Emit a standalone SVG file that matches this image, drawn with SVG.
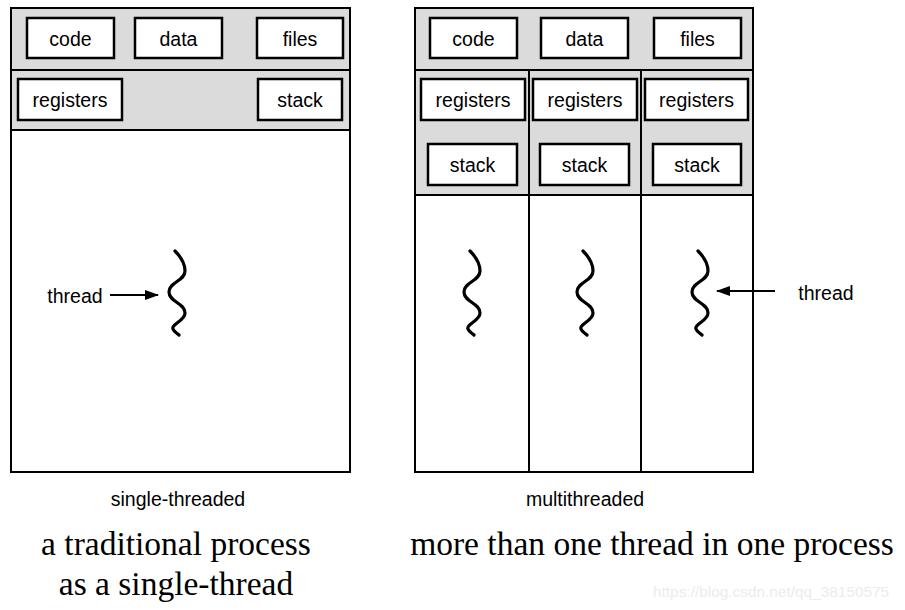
<svg xmlns="http://www.w3.org/2000/svg" width="905" height="610" viewBox="0 0 905 610">
<style>
.panel{fill:#dcdbdc;stroke:#000;stroke-width:2}
.body{fill:#fff;stroke:#000;stroke-width:2}
.box{fill:#fff;stroke:#000;stroke-width:2.5}
.line{stroke:#000;stroke-width:2;fill:none}
.lbl{font-family:"Liberation Sans",Arial,sans-serif;font-size:19.5px;fill:#000;text-anchor:middle}
.cap{font-family:"Liberation Serif","Times New Roman",serif;font-size:33.5px;fill:#000;text-anchor:middle}
.wave{fill:none;stroke:#000;stroke-width:3.2;stroke-linecap:round}
.wm{font-family:"Liberation Sans",Arial,sans-serif;font-size:15.4px;fill:#ececec}
</style>
<defs>
<path id="wave" d="M -2,0 C 3,5 8,12 8,20 C 8,30 -8,31 -8,41 C -8,51 8,52 8,62 C 8,70 -6,73 -4,78 C -3,81 0,82 2,84"/>
<marker id="ah" markerWidth="14" markerHeight="10" refX="13" refY="5" orient="auto" markerUnits="userSpaceOnUse">
<path d="M0,0 L14,5 L0,10 Z" fill="#000"/>
</marker>
</defs>

<g id="single-process">
<rect class="body" x="11" y="8" width="339" height="464"/>
<rect class="panel" x="11" y="8" width="339" height="62"/>
<rect class="panel" x="11" y="70" width="339" height="60"/>
</g>
<g id="s-code"><rect class="box" x="27" y="18" width="87" height="40"/><text class="lbl" x="70.5" y="46">code</text></g>
<g id="s-data"><rect class="box" x="135" y="18" width="87" height="40"/><text class="lbl" x="178.5" y="46">data</text></g>
<g id="s-files"><rect class="box" x="257" y="18" width="86" height="40"/><text class="lbl" x="300" y="46">files</text></g>
<g id="s-registers"><rect class="box" x="18" y="79" width="104" height="41"/><text class="lbl" x="70" y="107">registers</text></g>
<g id="s-stack"><rect class="box" x="258" y="79" width="84" height="41"/><text class="lbl" x="300" y="107">stack</text></g>
<g id="s-thread"><use href="#wave" class="wave" transform="translate(177,251)"/></g>
<text class="lbl" x="75" y="303">thread</text>

<g id="multi-process">
<rect class="body" x="415" y="8" width="338" height="464"/>
<rect class="panel" x="415" y="8" width="338" height="62"/>
<rect class="panel" x="415" y="70" width="338" height="125"/>
<line class="line" x1="529" y1="70" x2="529" y2="472"/>
<line class="line" x1="641" y1="70" x2="641" y2="472"/>
</g>
<g id="m-code"><rect class="box" x="430" y="18" width="87" height="40"/><text class="lbl" x="473.5" y="46">code</text></g>
<g id="m-data"><rect class="box" x="541" y="18" width="87" height="40"/><text class="lbl" x="584.5" y="46">data</text></g>
<g id="m-files"><rect class="box" x="654" y="18" width="87" height="40"/><text class="lbl" x="697.5" y="46">files</text></g>
<g id="m-registers1"><rect class="box" x="421" y="79" width="104" height="41"/><text class="lbl" x="473" y="107">registers</text></g>
<g id="m-registers2"><rect class="box" x="533" y="79" width="104" height="41"/><text class="lbl" x="585" y="107">registers</text></g>
<g id="m-registers3"><rect class="box" x="645" y="79" width="103" height="41"/><text class="lbl" x="696.5" y="107">registers</text></g>
<g id="m-stack1"><rect class="box" x="428" y="144" width="89" height="41"/><text class="lbl" x="472.5" y="172">stack</text></g>
<g id="m-stack2"><rect class="box" x="540" y="144" width="89" height="41"/><text class="lbl" x="584.5" y="172">stack</text></g>
<g id="m-stack3"><rect class="box" x="653" y="144" width="88" height="41"/><text class="lbl" x="697" y="172">stack</text></g>
<g id="m-thread1"><use href="#wave" class="wave" transform="translate(472,251)"/></g>
<g id="m-thread2"><use href="#wave" class="wave" transform="translate(585,251)"/></g>
<g id="m-thread3"><use href="#wave" class="wave" transform="translate(700,251)"/></g>
<text class="lbl" x="826" y="300">thread</text>

<g id="connectors">
<line class="line" x1="110" y1="295" x2="158" y2="295" marker-end="url(#ah)"/>
<line class="line" x1="775" y1="291" x2="717" y2="291" marker-end="url(#ah)"/>
</g>

<text class="lbl" x="178" y="506">single-threaded</text>
<text class="lbl" x="585" y="506">multithreaded</text>
<text class="cap" x="176" y="555">a traditional process</text>
<text class="cap" x="176" y="595">as a single-thread</text>
<text class="cap" x="652" y="555">more than one thread in one process</text>
<text class="wm" x="653" y="597">https://blog.csdn.net/qq_38150575</text>
</svg>
